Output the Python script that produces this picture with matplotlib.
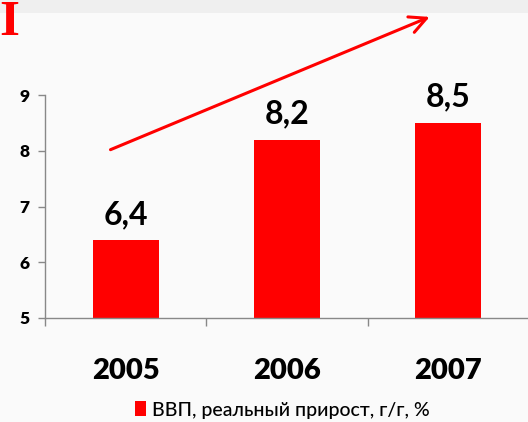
import matplotlib
matplotlib.use("Agg")
import matplotlib.pyplot as plt
from matplotlib.patches import Rectangle

categories = ["2005", "2006", "2007"]
values = [6.4, 8.2, 8.5]
value_labels = ["6,4", "8,2", "8,5"]
yticks = [5, 6, 7, 8, 9]
legend_label = "ВВП, реальный прирост, г/г, %"

RED = "#ff0000"
FONT = ["Lato", "Open Sans", "DejaVu Sans"]
plt.rcParams['font.family'] = FONT

fig = plt.figure(figsize=(5.28, 4.22), dpi=100, facecolor="#fafafa")
# top gray band
fig.patches.append(Rectangle((0, 1 - 13/422), 1, 13/422, transform=fig.transFigure,
                             facecolor="#efefef", edgecolor="none", zorder=0))
fig.text(-0.002, 1 - 35/422, "I", family=["Liberation Serif", "DejaVu Serif"], fontweight="bold",
         color=RED, fontsize=37, ha="left", va="baseline")

ax = fig.add_axes([45/528, 1 - 318/422, 484/528, (318 - 95)/422])
ax.set_facecolor("none")

x = range(len(categories))
bars = ax.bar(x, values, width=0.41, color=RED, zorder=2)
ax.set_ylim(5, 9)
ax.set_xlim(-0.5, 2.5)

for xi, v, lab in zip(x, values, value_labels):
    ax.annotate(lab, (xi, v), xytext=(0, 8), textcoords="offset points",
                ha="center", va="bottom", fontsize=23, fontweight="bold", color="black")

ax.set_yticks(yticks)
ax.set_yticklabels([str(t) for t in yticks], fontsize=12.5, fontweight="heavy")
ax.tick_params(axis="y", length=5, color="#888888", width=1, pad=6)

ax.set_xticks(list(x))
ax.set_xticklabels(categories, fontsize=21, fontweight="heavy")
ax.tick_params(axis="x", which="major", length=0, pad=29)
ax.set_xticks([-0.5, 0.5, 1.5, 2.5], minor=True)
ax.tick_params(axis="x", which="minor", length=6, color="#888888", width=1)

for s in ["top", "right"]:
    ax.spines[s].set_visible(False)
for s in ["left", "bottom"]:
    ax.spines[s].set_color("#888888")
    ax.spines[s].set_linewidth(1)

# trend arrow
ax.annotate("", xy=(1.90, 10.42), xytext=(-0.11, 8.0), xycoords="data",
            arrowprops=dict(arrowstyle="->,head_length=1.2,head_width=0.6", color=RED, lw=2.2),
            annotation_clip=False)

leg = ax.legend([bars[0]], [legend_label], loc="center", bbox_to_anchor=(0.49, (318 - 410)/(318 - 95)),
                frameon=False, handlelength=0.6, handleheight=0.8, handletextpad=0.3,
                prop={"family": ["Lato", "Noto Sans", "DejaVu Sans"], "size": 14, "weight": "medium"})

fig.savefig("out.png", dpi=100, facecolor=fig.get_facecolor())
